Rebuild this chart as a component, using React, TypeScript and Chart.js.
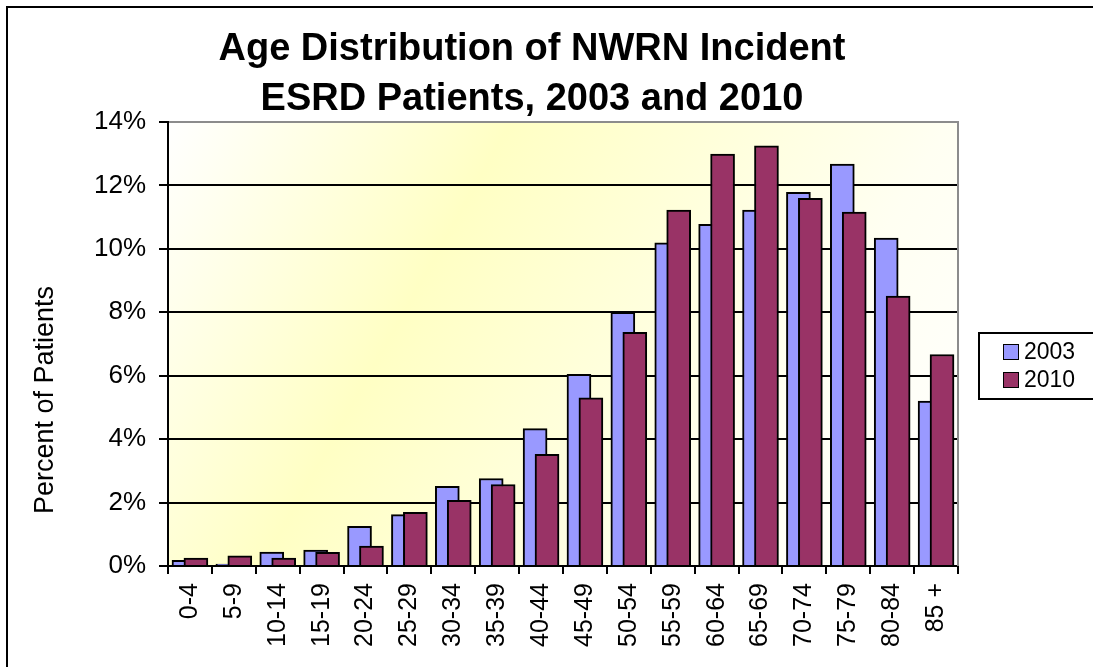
import React, { useEffect, useRef } from "react";
import { Chart, registerables } from "chart.js";

Chart.register(...registerables);

const FONT = "'Liberation Sans', Arial, Helvetica, sans-serif";

const titleLines = ["Age Distribution of NWRN Incident", "ESRD Patients, 2003 and 2010"];
const yAxisTitle = "Percent of Patients";
const categories = ["0-4", "5-9", "10-14", "15-19", "20-24", "25-29", "30-34", "35-39", "40-44", "45-49", "50-54", "55-59", "60-64", "65-69", "70-74", "75-79", "80-84", "85 +"];
const seriesNames = ["2003", "2010"];
const values2003 = [0.18, 0.06, 0.44, 0.5, 1.25, 1.62, 2.51, 2.76, 4.33, 6.04, 8.0, 10.19, 10.77, 11.22, 11.78, 12.67, 10.34, 5.2];
const values2010 = [0.25, 0.32, 0.25, 0.43, 0.63, 1.69, 2.07, 2.57, 3.52, 5.3, 7.37, 11.22, 12.99, 13.25, 11.59, 11.16, 8.51, 6.67];
const yTicks = [0, 2, 4, 6, 8, 10, 12, 14];

const COLOR_2003 = "#9999FF";
const COLOR_2010 = "#993366";
const SHIFT = 0.136; // fraction of a category each series is shifted from centre

const bgPlugin = {
  id: "bgGradient",
  beforeDraw(chart: any) {
    const { ctx, chartArea: a } = chart;
    if (!a) return;
    const g = ctx.createLinearGradient(a.left, a.top, a.right, a.bottom);
    g.addColorStop(0, "#FFFFFF");
    g.addColorStop(0.33, "#FFFFC4");
    g.addColorStop(0.75, "#FFFFF2");
    g.addColorStop(1, "#FFFFFF");
    ctx.save();
    ctx.fillStyle = g;
    ctx.fillRect(a.left, a.top, a.right - a.left, a.bottom - a.top);
    ctx.restore();
  },
};

const decorPlugin = {
  id: "decor",
  afterDraw(chart: any) {
    const { ctx, chartArea: a } = chart;
    if (!a) return;
    ctx.save();
    // right frame of plot area
    ctx.strokeStyle = "#8c8c8c";
    ctx.lineWidth = 2;
    ctx.beginPath();
    ctx.moveTo(a.right, a.top - 1);
    ctx.lineTo(a.right, a.bottom);
    ctx.stroke();

    // y axis title
    ctx.fillStyle = "#000";
    ctx.font = `27px ${FONT}`;
    ctx.textAlign = "center";
    ctx.textBaseline = "middle";
    ctx.translate(38, 392);
    ctx.rotate(-Math.PI / 2);
    ctx.fillText(yAxisTitle, 0, 0);
    ctx.restore();

    // legend box
    ctx.save();
    const bx = a.right + 21;
    const by = 325;
    ctx.strokeStyle = "#000";
    ctx.lineWidth = 2;
    ctx.strokeRect(bx, by, 140, 66);
    ctx.font = `23px ${FONT}`;
    ctx.textAlign = "left";
    ctx.textBaseline = "middle";
    chart.data.datasets
      .slice()
      .sort((p: any, q: any) => (p.label < q.label ? -1 : 1))
      .forEach((ds: any, i: number) => {
        const cy = by + 19 + i * 28;
        ctx.fillStyle = ds.backgroundColor;
        ctx.fillRect(bx + 24, cy - 8, 16, 16);
        ctx.lineWidth = 1;
        ctx.strokeStyle = "#000";
        ctx.strokeRect(bx + 24.5, cy - 7.5, 15, 15);
        ctx.fillStyle = "#000";
        ctx.fillText(ds.label, bx + 45, cy + 1);
      });
    ctx.restore();
  },
};

export default function App() {
  const ref = useRef<HTMLCanvasElement | null>(null);

  useEffect(() => {
    if (!ref.current) return;
    Chart.defaults.font.family = FONT;
    const chart = new Chart(ref.current, {
      type: "bar",
      data: {
        datasets: [
          {
            label: seriesNames[0],
            data: values2003.map((y, i) => ({ x: i - SHIFT, y })),
            backgroundColor: COLOR_2003,
            borderColor: "#000",
            borderWidth: 2,
            barThickness: 24,
            grouped: false,
            order: 1,
            xAxisID: "xb",
            yAxisID: "y",
          },
          {
            label: seriesNames[1],
            data: values2010.map((y, i) => ({ x: i + SHIFT, y })),
            backgroundColor: COLOR_2010,
            borderColor: "#000",
            borderWidth: 2,
            barThickness: 24,
            grouped: false,
            order: 0,
            xAxisID: "xb",
            yAxisID: "y",
          },
        ] as any,
      },
      options: {
        animation: false,
        responsive: true,
        maintainAspectRatio: false,
        events: [],
        layout: { padding: { left: 0, right: 37, top: 0, bottom: 0 } },
        plugins: {
          legend: { display: false },
          tooltip: { enabled: false },
          title: {
            display: true,
            text: titleLines,
            color: "#000",
            font: { size: 38, weight: "bold", family: FONT, lineHeight: 50 / 38 },
            padding: { top: 17, bottom: -3 },
          },
        },
        scales: {
          x: {
            type: "category",
            labels: categories,
            position: "bottom",
            offset: true,
            grid: { offset: true, drawOnChartArea: false, drawTicks: true, tickLength: 8, color: "#000", lineWidth: 2 },
            border: { display: true, color: "#000", width: 2 },
            ticks: { autoSkip: false, minRotation: 90, maxRotation: 90, padding: 9, color: "#000", font: { size: 25 } },
            afterFit: (s: any) => { s.height = 101; },
          },
          xb: {
            type: "linear",
            display: false,
            offset: false,
            grace: 0,
            bounds: "data",
            min: -0.5,
            max: categories.length - 0.5,
          },
          y: {
            type: "linear",
            position: "left",
            min: yTicks[0],
            max: yTicks[yTicks.length - 1],
            afterBuildTicks: (s: any) => { s.ticks = yTicks.map((v) => ({ value: v })); },
            ticks: { callback: (v: any) => v + "%", padding: 13, color: "#000", font: { size: 26 } },
            grid: {
              color: (c: any) => (c.tick && c.tick.value === yTicks[yTicks.length - 1] ? "#8c8c8c" : "#000"),
              tickColor: "#000",
              lineWidth: 2,
              tickLength: 9,
              drawTicks: true,
            },
            border: { display: true, color: "#000", width: 2 },
            afterFit: (s: any) => { s.width = 160; },
          },
          yR: {
            type: "linear",
            position: "right",
            display: true,
            grid: { display: false },
            border: { display: false },
            ticks: { display: false },
            afterFit: (s: any) => { s.width = 98; },
          },
        } as any,
      },
      plugins: [bgPlugin, decorPlugin],
    });
    return () => chart.destroy();
  }, []);

  return (
    <div
      style={{
        position: "fixed",
        left: 6,
        top: 6,
        width: 1087,
        height: 661,
        overflow: "hidden",
        borderTop: "2px solid #000",
        borderLeft: "2px solid #000",
        boxSizing: "border-box",
        background: "#fff",
      }}
    >
      <div style={{ position: "absolute", left: 0, top: 0, width: 1085, height: 659 }}>
        <canvas ref={ref} />
      </div>
    </div>
  );
}
